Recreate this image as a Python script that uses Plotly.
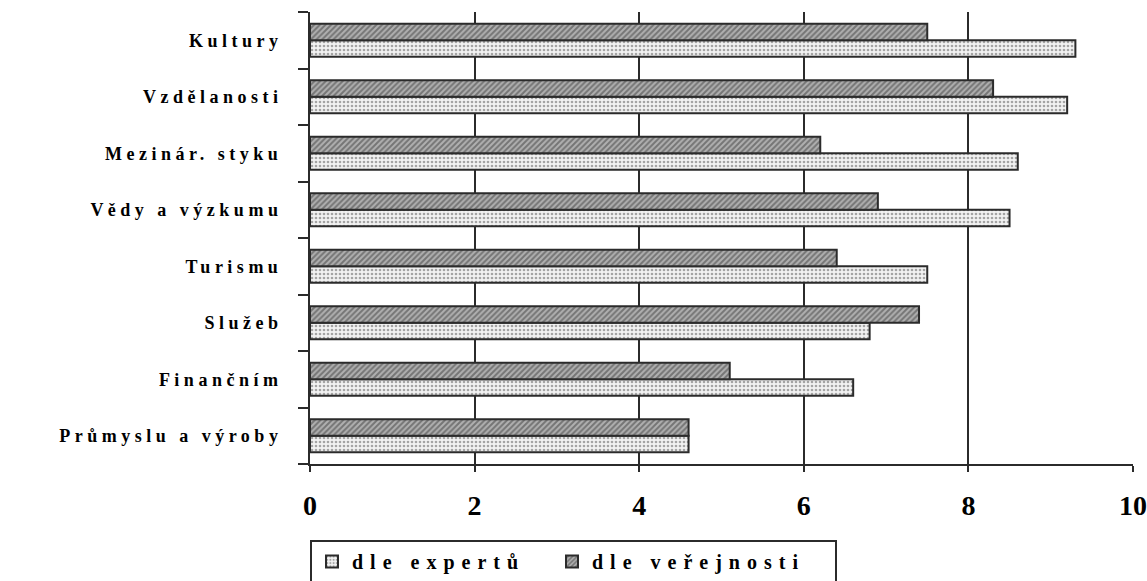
import plotly.graph_objects as go

categories = ["Kultury", "Vzdělanosti", "Mezinár. styku", "Vědy a výzkumu",
              "Turismu", "Služeb", "Finančním", "Průmyslu a výroby"]
experts = [9.3, 9.2, 8.6, 8.5, 7.5, 6.8, 6.6, 4.6]
public = [7.5, 8.3, 6.2, 6.9, 6.4, 7.4, 5.1, 4.6]
x_ticks = [0, 2, 4, 6, 8, 10]
series_names = ["dle expertů", "dle veřejnosti"]

FONT = "Liberation Serif"
DARK = "#2b2b2b"

fig = go.Figure()
fig.add_trace(go.Bar(
    y=categories, x=experts, orientation="h", name=series_names[0],
    marker=dict(color="white", line=dict(color=DARK, width=2),
                pattern=dict(shape=".", fgcolor="#555", bgcolor="#f2f2f2",
                             size=4, solidity=0.35)),
))
fig.add_trace(go.Bar(
    y=categories, x=public, orientation="h", name=series_names[1],
    marker=dict(color="#999", line=dict(color=DARK, width=2),
                pattern=dict(shape="/", fgcolor="#3a3a3a", bgcolor="#b0b0b0",
                             size=4, solidity=0.5)),
))

fig.update_layout(
    width=1147, height=581,
    margin=dict(l=310, r=14, t=12, b=117, autoexpand=False),
    paper_bgcolor="white", plot_bgcolor="white",
    barmode="group", bargap=0.42, bargroupgap=0,
    font=dict(family=FONT, color="black"),
    legend=dict(orientation="h", x=0, xanchor="left", y=-0.168, yanchor="top",
                bordercolor=DARK, borderwidth=2,
                font=dict(family=FONT, size=20, color="black", weight="bold"),
                entrywidth=195, itemsizing="constant", traceorder="normal"),
    showlegend=True,
)
fig.update_xaxes(
    range=[0, 10], tickvals=x_ticks, ticktext=["<b>%d</b>" % v for v in x_ticks],
    showgrid=True, gridcolor=DARK, gridwidth=2,
    showline=True, linecolor=DARK, linewidth=2,
    ticks="outside", ticklen=6, tickwidth=2, tickcolor=DARK,
    zeroline=False, automargin=False,
    tickfont=dict(family=FONT, size=28, color="black", weight="bold"),
    ticklabelstandoff=9,
)
fig.update_yaxes(
    categoryorder="array", categoryarray=categories[::-1],
    showline=True, linecolor=DARK, linewidth=2,
    ticks="outside", tickson="boundaries", ticklen=10, tickwidth=2, tickcolor=DARK,
    showgrid=False, zeroline=False, automargin=False,
    tickfont=dict(family=FONT, size=18, color="black", weight="bold"),
    ticklabelstandoff=22,
)

post = """
document.body.style.margin = '0';
document.body.style.padding = '0';
function spaceOut(){
  document.querySelectorAll('.ytick text').forEach(function(t){t.style.letterSpacing='4.5px';});
  document.querySelectorAll('.legendtext').forEach(function(t){t.style.letterSpacing='7px';});
  document.querySelectorAll('.legend rect.bg').forEach(function(r){r.setAttribute('width', 525);});
  document.querySelectorAll('clipPath[id^="legend"] rect').forEach(function(r){r.setAttribute('width', 525);});
}
spaceOut();
var gd = document.getElementsByClassName('plotly-graph-div')[0];
if (gd && gd.on) { gd.on('plotly_afterplot', spaceOut); }
"""

fig.write_html("out.html", post_script=post, config={"displayModeBar": False})
